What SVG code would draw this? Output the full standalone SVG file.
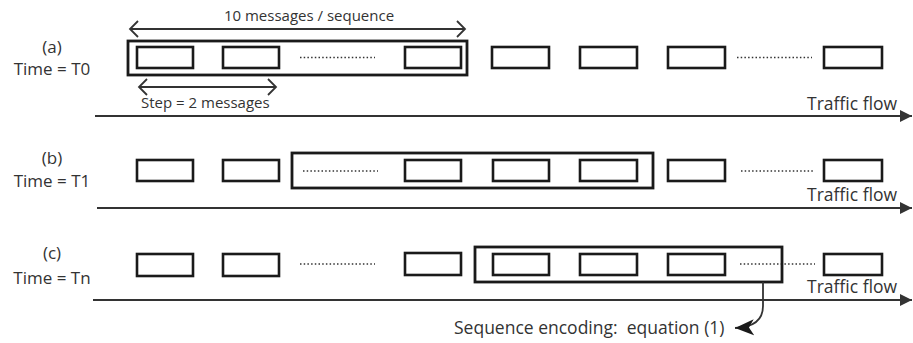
<svg xmlns="http://www.w3.org/2000/svg" width="913" height="343" viewBox="0 0 913 343">
<defs>
<style>
.t{font-family:"Open Sans","Noto Sans",sans-serif;fill:#333;}
.s15{font-size:15px;}
.s17{font-size:17.5px;}
.lab{font-size:17px;}
.msg{fill:#fff;stroke:#1a1a1a;stroke-width:2.6;}
.win{fill:none;stroke:#1a1a1a;stroke-width:2.8;}
.dots{fill:none;stroke:#333;stroke-width:1.5;stroke-dasharray:1.5 2.2;}
.flow{fill:none;stroke:#333;stroke-width:2.2;}
.dim{fill:none;stroke:#333;stroke-width:1.8;}
.chev{fill:none;stroke:#333;stroke-width:1.8;stroke-linejoin:miter;}
</style>
<marker id="tri" markerUnits="userSpaceOnUse" markerWidth="14" markerHeight="14" refX="12" refY="7" orient="auto">
<path d="M0,1 L12,7 L0,13 Z" fill="#333"/>
</marker>
<marker id="tri2" markerUnits="userSpaceOnUse" markerWidth="22" markerHeight="18" refX="19" refY="9" orient="auto">
<path d="M0,1 L19,9 L0,17 L5,9 Z" fill="#1a1a1a"/>
</marker>
</defs>
<rect width="913" height="343" fill="#fff"/>

<g id="labels">
<text class="t lab" x="52" y="53" text-anchor="middle">(a)</text>
<text class="t lab" x="52" y="75" text-anchor="middle">Time = T0</text>
<text class="t lab" x="52" y="164" text-anchor="middle">(b)</text>
<text class="t lab" x="52" y="187" text-anchor="middle">Time = T1</text>
<text class="t lab" x="52" y="259" text-anchor="middle">(c)</text>
<text class="t lab" x="52" y="284" text-anchor="middle">Time = Tn</text>
</g>

<g id="row-a">
<rect class="msg" x="137" y="47" width="56" height="21"/>
<rect class="msg" x="223" y="47" width="56" height="21"/>
<line class="dots" x1="300" y1="57.5" x2="375" y2="57.5"/>
<rect class="msg" x="405" y="47" width="56" height="21"/>
<rect class="msg" x="492" y="47" width="57" height="21"/>
<rect class="msg" x="580" y="47" width="57" height="21"/>
<rect class="msg" x="668" y="47" width="57" height="21"/>
<line class="dots" x1="737" y1="57.5" x2="812" y2="57.5"/>
<rect class="msg" x="824" y="47" width="58" height="21"/>
<rect id="window-a" class="win" x="128" y="41" width="339" height="34"/>
</g>

<g id="row-b">
<rect class="msg" x="137" y="160" width="56" height="21"/>
<rect class="msg" x="223" y="160" width="56" height="21"/>
<line class="dots" x1="303" y1="171" x2="378" y2="171"/>
<rect class="msg" x="405" y="160" width="56" height="21"/>
<rect class="msg" x="493" y="160" width="56" height="21"/>
<rect class="msg" x="580" y="160" width="57" height="21"/>
<rect class="msg" x="668" y="160" width="57" height="21"/>
<line class="dots" x1="741" y1="171" x2="815" y2="171"/>
<rect class="msg" x="824" y="160" width="58" height="21"/>
<rect id="window-b" class="win" x="292" y="153" width="361" height="35"/>
</g>

<g id="row-c">
<rect class="msg" x="137" y="254" width="56" height="22"/>
<rect class="msg" x="223" y="254" width="56" height="22"/>
<line class="dots" x1="300" y1="264" x2="375" y2="264"/>
<rect class="msg" x="405" y="253" width="56" height="22"/>
<rect class="msg" x="493" y="254" width="56" height="21"/>
<rect class="msg" x="580" y="254" width="57" height="21"/>
<rect class="msg" x="668" y="254" width="57" height="21"/>
<line class="dots" x1="740" y1="264" x2="815" y2="264"/>
<rect class="msg" x="824" y="254" width="58" height="21"/>
<rect id="window-c" class="win" x="475" y="247" width="307" height="35"/>
</g>

<g id="connectors">
<line class="dim" x1="130" y1="29" x2="465" y2="29"/>
<polyline class="chev" points="138,21 130,29 138,37"/>
<polyline class="chev" points="457,21 465,29 457,37"/>
<line class="dim" x1="139" y1="87" x2="276" y2="87"/>
<polyline class="chev" points="147,79 139,87 147,95"/>
<polyline class="chev" points="268,79 276,87 268,95"/>
<line class="flow" x1="95" y1="116" x2="912" y2="116" marker-end="url(#tri)"/>
<line class="flow" x1="97" y1="208" x2="912" y2="208" marker-end="url(#tri)"/>
<line class="flow" x1="93" y1="300" x2="912" y2="300" marker-end="url(#tri)"/>
<path class="dim" d="M763,282 L763,306 Q763,327 735,328" stroke="#1a1a1a" stroke-width="2" marker-end="url(#tri2)"/>
</g>

<g id="texts">
<text class="t s15" x="309" y="21" text-anchor="middle">10 messages / sequence</text>
<text class="t s15" x="141" y="108">Step = 2 messages</text>
<text class="t s17" x="807" y="110">Traffic flow</text>
<text class="t s17" x="807" y="201">Traffic flow</text>
<text class="t s17" x="807" y="293">Traffic flow</text>
<text class="t s17" x="454" y="334" xml:space="preserve">Sequence encoding:  equation (1)</text>
</g>
</svg>
